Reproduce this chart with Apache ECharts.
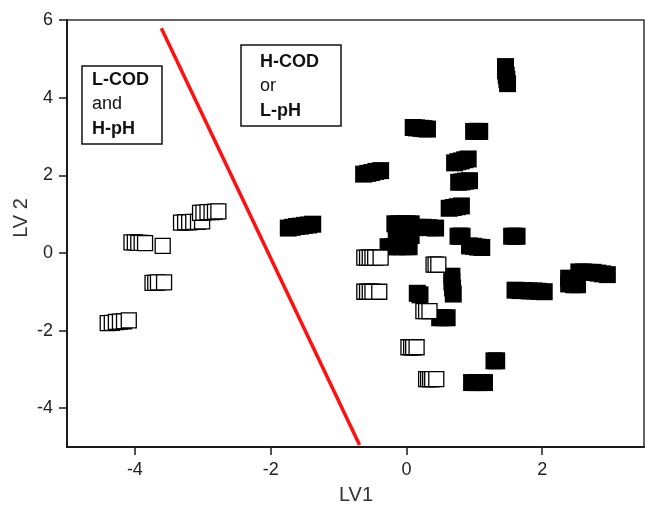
<!DOCTYPE html>
<html>
<head>
<meta charset="utf-8">
<script src="https://cdn.jsdelivr.net/npm/echarts@6/dist/echarts.min.js"></script>
<style>html,body{margin:0;padding:0;background:#fff}#c{width:645px;height:511px}</style>
</head>
<body>
<div id="c"></div>
<script>
// Open squares (L-COD and H-pH): repeated scores, left to right within each group
const openX = [
  -4.40,-4.34,-4.28,-4.22,-4.16,-4.09,
  -3.74,-3.70,-3.66,-3.57,
  -4.05,-4.00,-3.95,-3.90,-3.85,-3.59,
  -3.32,-3.26,-3.20,-3.14,-3.07,-3.01,
  -3.04,-2.99,-2.93,-2.87,-2.82,-2.77,
  -0.62,-0.58,-0.54,-0.50,-0.46,-0.38,
  -0.62,-0.58,-0.54,-0.50,-0.40,
  0.40,0.43,0.47,
  0.25,0.29,0.34,
  0.03,0.07,0.10,0.15,
  0.29,0.32,0.35,0.38,0.44
];
const openY = [
  -1.81,-1.80,-1.78,-1.77,-1.76,-1.74,
  -0.77,-0.77,-0.76,-0.76,
  0.27,0.27,0.26,0.26,0.25,0.18,
  0.78,0.79,0.79,0.80,0.80,0.81,
  1.03,1.04,1.05,1.05,1.06,1.07,
  -0.12,-0.12,-0.12,-0.12,-0.12,-0.12,
  -1.00,-1.00,-1.00,-1.00,-1.00,
  -0.30,-0.30,-0.30,
  -1.50,-1.50,-1.50,
  -2.43,-2.43,-2.43,-2.43,
  -3.25,-3.25,-3.25,-3.25,-3.25
];
// Filled squares (H-COD or L-pH)
const filledX = [
  -1.74,-1.68,-1.62,-1.56,-1.50,-1.44,-1.38,
  1.46,1.46,1.47,1.48,1.49,
  0.10,0.15,0.21,0.26,0.31,
  0.99,1.04,1.08,
  0.71,0.76,0.81,0.86,0.91,
  0.77,0.82,0.87,0.93,
  -0.63,-0.57,-0.51,-0.45,-0.38,
  0.63,0.69,0.75,0.81,
  -0.17,-0.11,-0.05,0.01,0.07,
  0.17,0.25,0.33,0.43,
  -0.15,-0.08,0.00,0.07,
  -0.27,-0.20,-0.13,-0.06,0.01,0.04,
  0.76,0.79,0.82,
  0.93,0.99,1.05,1.11,
  1.55,1.59,1.63,
  0.67,0.67,0.68,0.69,
  0.16,0.20,
  0.49,0.54,0.60,
  1.29,1.33,
  0.96,1.02,1.08,1.15,
  1.60,1.67,1.74,1.81,1.88,1.95,2.03,
  2.39,2.39,2.46,2.52,
  2.54,2.61,2.68,2.75,2.82,2.89,2.96
];
const filledY = [
  0.64,0.66,0.68,0.69,0.71,0.72,0.74,
  4.80,4.69,4.58,4.47,4.36,
  3.23,3.22,3.21,3.20,3.19,
  3.13,3.13,3.13,
  2.32,2.35,2.37,2.40,2.42,
  1.82,1.83,1.85,1.86,
  2.03,2.05,2.07,2.10,2.12,
  1.15,1.17,1.19,1.21,
  0.75,0.75,0.75,0.75,0.75,
  0.66,0.66,0.65,0.64,
  0.45,0.45,0.45,0.45,
  0.16,0.16,0.16,0.16,0.16,0.16,
  0.43,0.43,0.43,
  0.18,0.17,0.15,0.14,
  0.43,0.43,0.43,
  -0.60,-0.75,-0.90,-1.06,
  -1.04,-1.08,
  -1.67,-1.67,-1.67,
  -2.78,-2.78,
  -3.34,-3.34,-3.34,-3.34,
  -0.96,-0.97,-0.97,-0.98,-0.98,-0.99,-1.00,
  -0.65,-0.80,-0.82,-0.82,
  -0.49,-0.49,-0.50,-0.50,-0.52,-0.54,-0.56
];
// Discriminant line
const lineX = [-3.61, -0.69];
const lineY = [5.79, -4.95];
// Ticks
const xTicks = [-4, -2, 0, 2];
const yTicks = [-4, -2, 0, 2, 4, 6];
// Annotation text
const boxLeft = [['L-COD', true], ['and', false], ['H-pH', true]];
const boxRight = [['H-COD', true], ['or', false], ['L-pH', true]];

const FONT = 'Liberation Sans, Arial, sans-serif';
const zip = (a, b) => a.map((v, i) => [v, b[i]]);

function boxElems(rect, tx, ty0, lines) {
  const els = [{
    type: 'rect', shape: rect, z: 10,
    style: { fill: '#fff', stroke: '#111', lineWidth: 1.5 }
  }];
  lines.forEach((l, i) => {
    els.push({
      type: 'text', x: tx, y: ty0 + i * 24.5, z: 11,
      style: { text: l[0], fontSize: 18, fontWeight: l[1] ? 'bold' : 'normal',
               fontFamily: FONT, fill: '#111', align: 'left', verticalAlign: 'middle' }
    });
  });
  return els;
}

const chart = echarts.init(document.getElementById('c'), null, { renderer: 'canvas' });
const axisCommon = {
  type: 'value',
  axisLine: { show: true, onZero: false, lineStyle: { color: '#1a1a1a', width: 2 } },
  axisTick: { show: true, inside: false, length: 8, lineStyle: { color: '#1a1a1a', width: 1.5 } },
  axisLabel: { fontSize: 18, fontFamily: FONT, color: '#222', margin: 14 },
  splitLine: { show: false }
};
chart.setOption({
  animation: false,
  backgroundColor: '#fff',
  grid: { left: 67, right: 1, top: 20, bottom: 64, show: true, borderColor: '#333', borderWidth: 1.5, backgroundColor: 'transparent' },
  xAxis: Object.assign({}, axisCommon, {
    min: -5, max: 3.5,
    axisTick: Object.assign({}, axisCommon.axisTick, { customValues: xTicks }),
    axisLabel: Object.assign({}, axisCommon.axisLabel, { customValues: xTicks })
  }),
  yAxis: Object.assign({}, axisCommon, {
    min: -5, max: 6,
    axisTick: Object.assign({}, axisCommon.axisTick, { customValues: yTicks }),
    axisLabel: Object.assign({}, axisCommon.axisLabel, { customValues: yTicks })
  }),
  series: [
    {
      type: 'scatter', data: zip(filledX, filledY), symbol: 'rect', symbolSize: 17,
      itemStyle: { color: '#000', opacity: 1 }, z: 2, silent: true
    },
    {
      type: 'scatter', data: zip(openX, openY), symbol: 'rect', symbolSize: 15,
      itemStyle: { color: '#fff', borderColor: '#000', borderWidth: 1.3, opacity: 1 }, z: 3, silent: true
    },
    {
      type: 'line', data: zip(lineX, lineY), symbol: 'none',
      lineStyle: { color: '#ff1010', width: 3.5 }, z: 4, silent: true
    }
  ],
  graphic: [].concat(
    boxElems({ x: 82, y: 66, width: 80, height: 78 }, 92, 80, boxLeft),
    boxElems({ x: 241, y: 45, width: 100, height: 81 }, 260, 62, boxRight),
    [
      { type: 'text', x: 356, y: 495, style: { text: 'LV1', fontSize: 20, fontFamily: FONT, fill: '#333', align: 'center', verticalAlign: 'middle' } },
      { type: 'text', x: 21, y: 218, rotation: Math.PI / 2, style: { text: 'LV 2', fontSize: 20, fontFamily: FONT, fill: '#333', align: 'center', verticalAlign: 'middle' } }
    ]
  )
});
</script>
</body>
</html>
